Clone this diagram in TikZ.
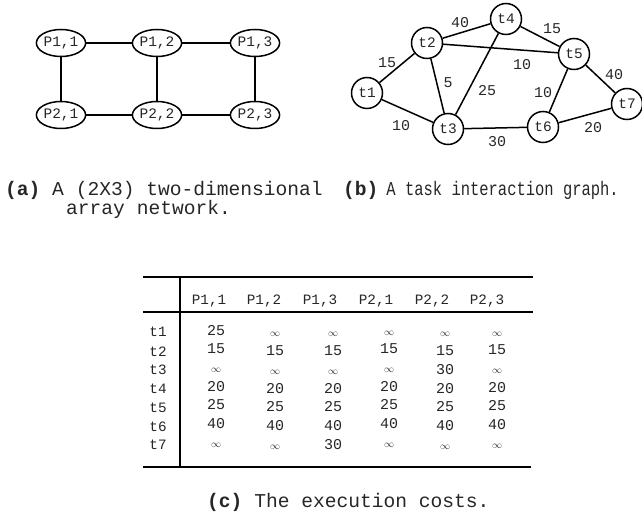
\documentclass[tikz,border=0pt]{standalone}
\usepackage{fontspec}
\setmonofont{Liberation Mono}
\usetikzlibrary{shapes.geometric}
\begin{document}
\begin{tikzpicture}[x=1pt,y=-1pt,
  ink/.style={text=black!85},
  proc/.style={draw, line width=1.5pt, ellipse, minimum width=47pt, minimum height=27pt,
    inner sep=0pt, ink, font=\fontsize{14.5}{16}\selectfont\ttfamily},
  task/.style={draw, line width=1.5pt, circle, minimum size=31pt, inner sep=0pt,
    ink, font=\fontsize{14.5}{16}\selectfont\ttfamily},
  link/.style={line width=1.5pt},
  wt/.style={inner sep=0pt, ink, font=\fontsize{15}{17}\selectfont\ttfamily},
  captxt/.style={inner sep=0pt, anchor=base west, ink, font=\fontsize{19.6}{22}\selectfont\ttfamily},
  hdr/.style={inner sep=0pt, anchor=base, ink, font=\fontsize{14.3}{16}\selectfont\ttfamily},
  cell/.style={inner sep=0pt, anchor=base, ink, font=\fontsize{15}{17}\selectfont\ttfamily},
  tabrule/.style={line width=1.6pt}
]
\useasboundingbox (0,0) rectangle (642,518);

% (a) 2x3 processor array
\node[proc] (p11) at (61,43)  {P1,1};
\node[proc] (p12) at (157,43) {P1,2};
\node[proc] (p13) at (255,43) {P1,3};
\node[proc] (p21) at (61,115)  {P2,1};
\node[proc] (p22) at (157,115) {P2,2};
\node[proc] (p23) at (255,115) {P2,3};
\draw[link] (p11) -- (p12) (p12) -- (p13)
            (p21) -- (p22) (p22) -- (p23)
            (p11) -- (p21) (p12) -- (p22) (p13) -- (p23);

% (b) task interaction graph
\node[task] (t1) at (367,93)  {t1};
\node[task] (t2) at (427,43)  {t2};
\node[task] (t3) at (448,129) {t3};
\node[task] (t4) at (506,19)  {t4};
\node[task] (t5) at (574,54)  {t5};
\node[task] (t6) at (543,127) {t6};
\node[task] (t7) at (627,104) {t7};
\draw[link] (t1) -- (t2) (t1) -- (t3) (t2) -- (t4) (t2) -- (t5) (t2) -- (t3)
            (t4) -- (t3) (t4) -- (t5) (t5) -- (t6) (t5) -- (t7) (t3) -- (t6)
            (t6) -- (t7);
\node[wt] (w24) at (460,23)  {40};
\node[wt] (w45) at (552,29)  {15};
\node[wt] (w12) at (387,63)  {15};
\node[wt] (w25) at (522,65)  {10};
\node[wt] (w23) at (448,83)  {5};
\node[wt] (w43) at (487,91)  {25};
\node[wt] (w56) at (543,93)  {10};
\node[wt] (w57) at (614,75)  {40};
\node[wt] (w13) at (401,126) {10};
\node[wt] (w36) at (497,142) {30};
\node[wt] (w67) at (593,128) {20};

% captions of (a) and (b)
\node[captxt] (capa1) at (5,196) {\textbf{(a)} A (2X3) two-dimensional};
\node[captxt] (capa2) at (66,215) {array network.};
\node[captxt] (capb) at (343,196) {\textbf{(b)}\hspace{8pt}\scalebox{0.79}[1]{A task interaction graph.}};

% (c) execution cost table
\coordinate (tl) at (143,277);
\coordinate (tr) at (533,277);
\coordinate (hl) at (143,312);
\coordinate (hr) at (533,312);
\coordinate (bl) at (143,467);
\coordinate (br) at (531,467);
\coordinate (vt) at (180,277);
\coordinate (vb) at (180,467);
\draw[tabrule] (tl) -- (tr);
\draw[tabrule] (hl) -- (hr);
\draw[tabrule] (bl) -- (br);
\draw[tabrule] (vt) -- (vb);

\foreach \lab/\x [count=\i] in {{P1,1}/209, {P1,2}/264, {P1,3}/320, {P2,1}/376, {P2,2}/432, {P2,3}/487}
  \node[hdr] (h\i) at (\x,305) {\lab};

\foreach \y [count=\r] in {337,356,374,393,412,431,449}
  \node[hdr] (r\r) at (158,\y) {t\r};

\newcommand{\infsym}{{\fontsize{10}{12}\selectfont$\infty$}}
\foreach \vals [count=\r] in {
  {25,\infsym,\infsym,\infsym,\infsym,\infsym},
  {15,15,15,15,15,15},
  {\infsym,\infsym,\infsym,\infsym,30,\infsym},
  {20,20,20,20,20,20},
  {25,25,25,25,25,25},
  {40,40,40,40,40,40},
  {\infsym,\infsym,30,\infsym,\infsym,\infsym}}
{
  \pgfmathsetmacro{\yb}{337+18.7*(\r-1)}
  \foreach \v [count=\c] in \vals {
    \pgfmathsetmacro{\xc}{{216,275,333,389,445,497}[\c-1]}
    \pgfmathsetmacro{\dy}{{-2,0,0,-2,0,-1}[\c-1]}
    \node[cell] (v\r-\c) at (\xc,\yb+\dy) {\v};
  }
}

\node[captxt] (capc) at (207,507) {\textbf{(c)} The execution costs.};
\end{tikzpicture}
\end{document}
